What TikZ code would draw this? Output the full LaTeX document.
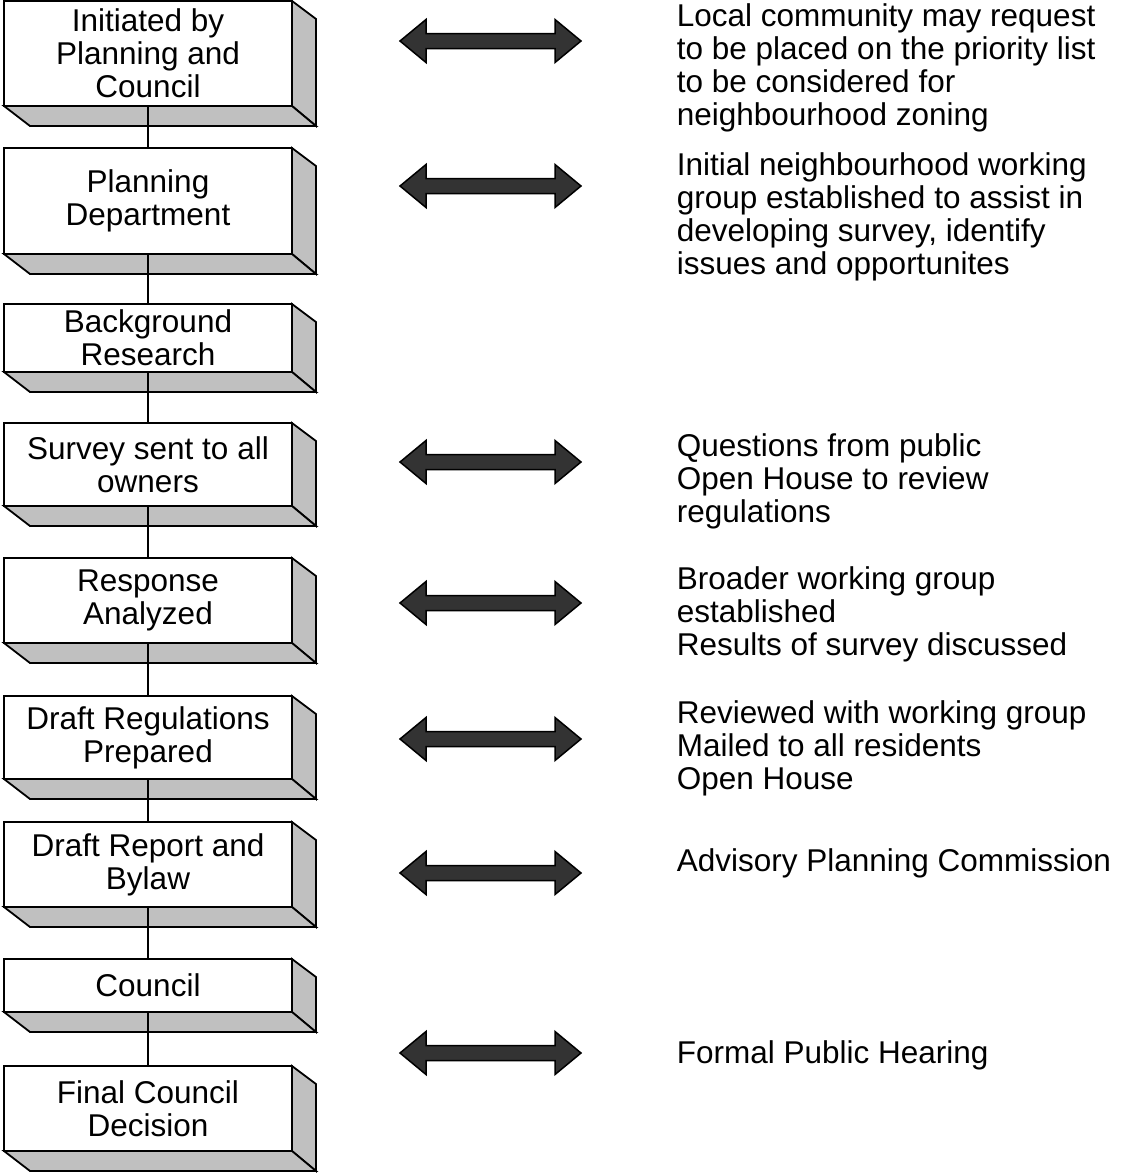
\documentclass[tikz,border=0pt]{standalone}
\usepackage{fontspec}
\setmainfont{Liberation Sans}
\usetikzlibrary{calc}
\definecolor{bevel}{HTML}{C0C0C0}
\definecolor{arrowgray}{HTML}{333333}
\begin{document}
\begin{tikzpicture}[x=1pt, y=-1pt, line width=1.8pt,
	font=\fontsize{31.5}{33}\selectfont,
	stage/.style={draw, fill=white, anchor=north west, align=center, minimum width=288pt, inner sep=0pt, outer sep=0pt},
	face/.style={draw, fill=bevel, line join=miter},
	note/.style={anchor=north west, align=left, inner sep=0pt}]
	\useasboundingbox (0,0) rectangle (1126,1173);
	% stages down the left
	\node[stage, minimum height=105pt] (init) at (4,1) {Initiated by\\Planning and\\Council};
	\node[stage, minimum height=106pt] (dept) at (4,148) {Planning\\Department};
	\node[stage, minimum height=68pt] (research) at (4,304) {Background\\Research};
	\node[stage, minimum height=83pt] (survey) at (4,423) {Survey sent to all\\owners};
	\node[stage, minimum height=85pt] (response) at (4,558) {Response\\Analyzed};
	\node[stage, minimum height=83pt] (regs) at (4,696) {Draft Regulations\\Prepared};
	\node[stage, minimum height=85pt] (report) at (4,822) {Draft Report and\\Bylaw};
	\node[stage, minimum height=53pt] (council) at (4,959) {Council};
	\node[stage, minimum height=85pt] (final) at (4,1066) {Final Council\\Decision};
	% bevelled sides
	\foreach \n in {init,dept,research,survey,response,regs,report,council,final} {
		\draw[face] (\n.north east) -- ++(24,18) -- ($(\n.south east)+(24,20)$) -- (\n.south east) -- cycle;
		\draw[face] (\n.south west) -- ++(26,20) -- ($(\n.south east)+(24,20)$) -- (\n.south east) -- cycle;
	}
	\foreach \a/\b in {init/dept,dept/research,research/survey,survey/response,response/regs,regs/report,report/council,council/final}
		\draw (\a.south) -- (\b.north);
	% two-way block arrows
	\foreach \y in {41,186,462,603,739,873,1053}
		\draw[fill=arrowgray, line width=1.5pt, line join=miter] (400,\y) -- ++(26,-21.5) -- ++(0,14) -- ++(129,0) -- ++(0,-14) -- ++(26,21.5) -- ++(-26,21.5) -- ++(0,-14) -- ++(-129,0) -- ++(0,14) -- cycle;
	% notes on the right
	\node[note] (n1) at (676,3) {Local community may request\\to be placed on the priority list\\to be considered for\\neighbourhood zoning};
	\node[note] (n2) at (676,152) {Initial neighbourhood working\\group established to assist in\\developing survey, identify\\issues and opportunites};
	\node[note] (n3) at (676,433) {Questions from public\\Open House to review\\regulations};
	\node[note] (n4) at (676,566) {Broader working group\\established\\Results of survey discussed};
	\node[note] (n5) at (676,700) {Reviewed with working group\\Mailed to all residents\\Open House};
	\node[note] (n6) at (676,848) {Advisory Planning Commission};
	\node[note] (n7) at (676,1040) {Formal Public Hearing};
\end{tikzpicture}
\end{document}
